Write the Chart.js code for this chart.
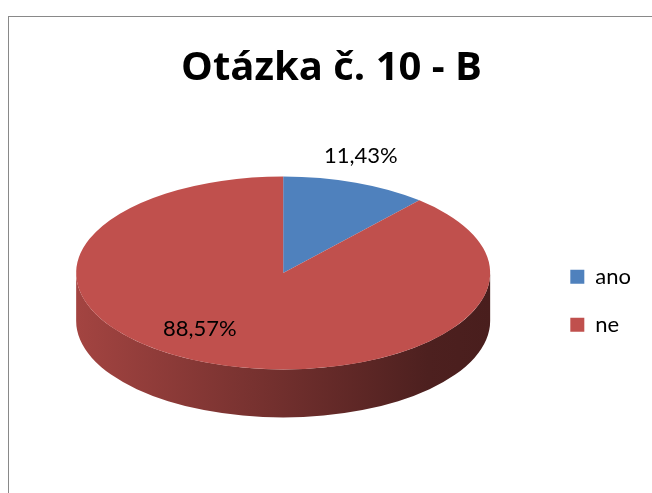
<!DOCTYPE html>
<html>
<head>
<meta charset="utf-8">
<script src="https://cdn.jsdelivr.net/npm/chart.js@4/dist/chart.umd.min.js"></script>
<style>
  html, body { margin: 0; padding: 0; background: #fff; overflow: hidden; }
  #frame { position: absolute; left: 8px; top: 16px; width: 700px; height: 600px; border: 1px solid #898989; }
  #chart { position: absolute; left: 0; top: 0; }
</style>
</head>
<body>
<div id="frame"></div>
<canvas id="chart" width="652" height="493"></canvas>
<script>
const categories = ['ano', 'ne'];
const shares = [11.43, 88.57];
const sliceColors = ['#4F81BD', '#C0504D'];

function percentText(v) {
    return v.toFixed(2).replace('.', ',') + '%';
}

function shade(hex, f) {
    const n = parseInt(hex.slice(1), 16);
    const r = Math.round(((n >> 16) & 255) * f);
    const g = Math.round(((n >> 8) & 255) * f);
    const b = Math.round((n & 255) * f);
    return `rgb(${r}, ${g}, ${b})`;
}

// squashes the pie into an ellipse and draws the side wall + value labels
const pie3d = {
    id: 'pie3d',
    beforeDatasetsDraw(chart, args, opts) {
        const ctx = chart.ctx;
        const arcs = chart.getDatasetMeta(0).data;
        const {x, y, outerRadius} = arcs[0];
        const depth = opts.depth / opts.tilt;

        ctx.save();
        ctx.translate(x, y - opts.depth / 2);
        ctx.scale(1, opts.tilt);
        ctx.translate(-x, -y);

        arcs.forEach((arc, i) => {
            const color = chart.data.datasets[0].backgroundColor[i];
            const grad = ctx.createLinearGradient(x - outerRadius, 0, x + outerRadius, 0);
            grad.addColorStop(0, shade(color, 0.85));
            grad.addColorStop(0.85, shade(color, 0.4));
            grad.addColorStop(1, shade(color, 0.38));
            for (let t = -2; t <= 2; t++) {
                const lo = Math.max(arc.startAngle, 2 * Math.PI * t);
                const hi = Math.min(arc.endAngle, Math.PI + 2 * Math.PI * t);
                if (hi <= lo) continue;
                ctx.beginPath();
                ctx.arc(x, y, outerRadius, lo, hi);
                ctx.arc(x, y + depth, outerRadius, hi, lo, true);
                ctx.closePath();
                ctx.fillStyle = grad;
                ctx.fill();
            }
        });
    },
    afterDatasetsDraw(chart, args, opts) {
        const ctx = chart.ctx;
        ctx.restore();

        const arcs = chart.getDatasetMeta(0).data;
        ctx.save();
        ctx.font = opts.font;
        ctx.fillStyle = '#000';
        ctx.textAlign = 'center';
        ctx.textBaseline = 'middle';
        arcs.forEach((arc, i) => {
            const mid = (arc.startAngle + arc.endAngle) / 2;
            const p = opts.labelPlaces[i];
            const lx = arc.x + Math.cos(mid) * arc.outerRadius * p.f + p.dx;
            const ly = arc.y - opts.depth / 2 + Math.sin(mid) * arc.outerRadius * opts.tilt * p.f + p.dy;
            ctx.fillText(percentText(shares[i]), lx, ly);
        });
        ctx.restore();
    }
};

const chartCtx = document.getElementById('chart').getContext('2d');

new Chart(chartCtx, {
    type: 'pie',
    data: {
        labels: categories,
        datasets: [{
            data: shares,
            backgroundColor: sliceColors,
            borderWidth: 0,
            clip: false
        }]
    },
    options: {
        responsive: false,
        animation: false,
        events: [],
        radius: 207,
        layout: {
            padding: { left: 22, right: 11 }
        },
        plugins: {
            title: {
                display: true,
                text: 'Otázka č. 10 - B',
                color: '#000',
                font: { family: 'Open Sans', size: 40, weight: 'bold' },
                padding: { top: 45, bottom: 8 }
            },
            legend: {
                position: 'right',
                title: {
                    display: true,
                    text: ' ',
                    font: { family: 'Lato', size: 22 },
                    padding: { top: 82, bottom: 0 }
                },
                labels: {
                    boxWidth: 14,
                    boxHeight: 14,
                    padding: 26,
                    color: '#000',
                    font: { family: 'Lato', size: 22 }
                }
            },
            tooltip: { enabled: false },
            pie3d: {
                depth: 48,
                tilt: 0.466,
                font: '22px Lato',
                labelPlaces: [
                    { f: 1.26, dx: -14, dy: -3 },
                    { f: 0.72, dx: -31, dy: -9 }
                ]
            }
        }
    },
    plugins: [pie3d]
});
</script>
</body>
</html>
